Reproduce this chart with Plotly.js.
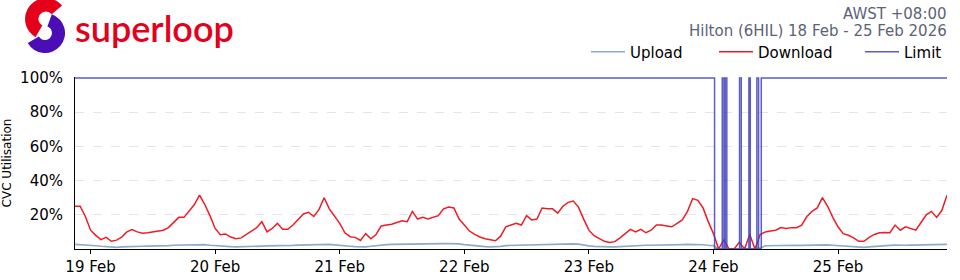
<!DOCTYPE html>
<html>
<head>
<meta charset="utf-8">
<script src="https://cdn.plot.ly/plotly-3.0.1.min.js"></script>
<style>html,body{margin:0;padding:0;background:#fff;}#chart{width:960px;height:280px;}</style>
</head>
<body>
<div id="chart"></div>
<script>
// ---- data (hourly samples starting 18 Feb 2026 21:00 AWST) ----
const seriesStart = '2026-02-18 21:00';
const seriesEnd = '2026-02-25 21:00';
const download = [
  25, 25, 19, 11, 8, 5.5, 6.8, 4.5, 5.2, 7,
  10, 11.3, 10, 9.2, 9.5, 10, 10.5, 11, 12.5, 15.5,
  18.5, 18.5, 22, 26, 31.5, 26, 19.5, 12, 8.3, 8.8,
  7, 6, 6.5, 8.5, 10.5, 12.5, 16, 10, 12, 15,
  11.5, 11.5, 14, 17, 20.5, 21.5, 19, 23, 30, 23.5,
  19.5, 15, 9.5, 7.2, 6.8, 5, 9, 6, 8.5, 13.5,
  14, 14.5, 15.5, 16.5, 16, 22, 17.5, 18.5, 17.5, 18.5,
  19.5, 23.5, 24.5, 24, 17.5, 14, 10.5, 8.5, 7, 6,
  5.2, 4.8, 7.5, 13, 14, 15, 14, 19.5, 17, 17.5,
  24, 23.5, 23.5, 21, 25, 27.3, 28, 24.5, 17.5, 11,
  7.8, 6, 4.5, 3.8, 4.3, 6.5, 9, 11.5, 10, 11.5,
  9.5, 11, 14, 14, 13.5, 13, 15, 17, 22, 29.5,
  28.5, 24, 16, 9, 0, 5.5, 0, 0, 4, 0,
  8.5, 0, 8.5, 10, 10.5, 11, 12.5, 12, 12.5, 12.5,
  14, 19, 22, 24, 30, 25, 18.5, 13, 9, 8,
  6.5, 4.5, 4.5, 6.8, 8.5, 9.5, 9.7, 9.5, 14, 11,
  13, 12, 11, 15.5, 20, 22, 18.5, 22.5, 31.5
];
const upload = [
  2.7, 2.6, 2.3, 2.0, 1.9, 1.6, 1.3, 1.0, 1.0, 1.2,
  1.4, 1.5, 1.6, 1.6, 1.7, 1.7, 1.8, 1.9, 2.0, 2.2,
  2.3, 2.5, 2.6, 2.8, 2.9, 2.6, 2.2, 1.9, 1.8, 1.6,
  1.4, 1.3, 1.3, 1.4, 1.5, 1.6, 1.7, 1.8, 1.8, 1.9,
  1.9, 2.0, 2.1, 2.3, 2.4, 2.5, 2.6, 2.7, 2.8, 2.7,
  2.4, 2.0, 1.8, 1.6, 1.4, 1.3, 1.3, 1.6, 2.0, 2.4,
  2.6, 2.7, 2.7, 2.8, 2.8, 2.9, 2.9, 2.9, 3.0, 3.0,
  3.0, 3.1, 3.2, 3.3, 3.0, 2.6, 2.2, 1.9, 1.6, 1.4,
  1.2, 1.2, 1.5, 2.0, 2.1, 2.2, 2.3, 2.4, 2.5, 2.5,
  2.6, 2.7, 2.8, 2.8, 2.9, 2.9, 3.0, 2.8, 2.2, 1.8,
  1.5, 1.3, 1.2, 1.2, 1.3, 1.5, 1.8, 1.9, 2.0, 2.1,
  2.2, 2.2, 2.2, 2.2, 2.3, 2.4, 2.5, 2.6, 2.7, 2.7,
  2.7, 2.5, 2.2, 2.0, 0, 0.2, 0, 0, 0.2, 0,
  0.3, 0, 0.5, 1.9, 2.0, 2.0, 2.1, 2.1, 2.2, 2.2,
  2.1, 2.2, 2.3, 2.4, 2.5, 2.4, 2.2, 2.0, 1.7, 1.4,
  1.2, 1.0, 1.0, 1.3, 1.6, 1.8, 2.0, 2.1, 2.3, 2.1,
  2.2, 2.3, 2.4, 2.4, 2.5, 2.5, 2.6, 2.7, 2.7
];
// Limit changes (step series)
const limitTimes = [
  '2026-02-18 21:00', '2026-02-24 00:13', '2026-02-24 01:42', '2026-02-24 02:01',
  '2026-02-24 02:17', '2026-02-24 02:35', '2026-02-24 05:02', '2026-02-24 05:22',
  '2026-02-24 06:50', '2026-02-24 07:06', '2026-02-24 08:22', '2026-02-24 08:42',
  '2026-02-24 09:13', '2026-02-25 21:00'
];
const limitVals = [100, 0, 100, 0, 100, 0, 100, 0, 100, 0, 100, 0, 100, 100];
const yTickVals = [20, 40, 60, 80, 100];
const yTickText = ['20%', '40%', '60%', '80%', '100%'];
const seriesNames = ['Upload', 'Download', 'Limit'];
const headerLines = ['AWST +08:00', 'Hilton (6HIL) 18 Feb - 25 Feb 2026'];
const brand = 'superloop';

// ---- hourly timestamps ----
function pad(n){return (n<10?'0':'')+n;}
const t0 = Date.UTC(2026, 1, 18, 21, 0, 0);
const times = download.map((_, i) => {
  const d = new Date(t0 + i * 3600000);
  return d.getUTCFullYear() + '-' + pad(d.getUTCMonth()+1) + '-' + pad(d.getUTCDate()) + ' ' +
         pad(d.getUTCHours()) + ':' + pad(d.getUTCMinutes()) + ':00';
});

// ---- layout geometry ----
const ML = 75, MR = 13, MT = 77, MB = 31, W = 960, H = 280;
const PW = W - ML - MR, PH = H - MT - MB;
const pX = x => (x - ML) / PW;
const pY = y => (H - MB - y) / PH;
const FONT = 'DejaVu Sans, Verdana, sans-serif';
const ITEMW = 34;

const traces = [
  {x: times, y: upload, name: seriesNames[0], legend: 'legend', type: 'scatter', mode: 'lines',
   line: {color: '#8eaacb', width: 1.7}, hoverinfo: 'skip'},
  {x: times, y: download, name: seriesNames[1], legend: 'legend2', type: 'scatter', mode: 'lines',
   line: {color: '#ee1d25', width: 1.5}, hoverinfo: 'skip'},
  {x: limitTimes, y: limitVals, name: seriesNames[2], legend: 'legend3', type: 'scatter', mode: 'lines',
   line: {color: 'rgba(64,64,190,0.85)', width: 1.5, shape: 'hv'}, hoverinfo: 'skip'}
];

function legendBase() {
  return {orientation: 'h', y: pY(52), yanchor: 'middle',
          font: {family: FONT, size: 15, color: '#000'}, bgcolor: 'rgba(0,0,0,0)',
          itemwidth: ITEMW, borderwidth: 0};
}
function legendLeft(textLeft) {
  return Object.assign(legendBase(), {x: pX(textLeft - ITEMW - 10), xanchor: 'left'});
}

const logoSvg = '<svg xmlns="http://www.w3.org/2000/svg" viewBox="20 -4 54 60" width="54" height="60">' +
  '<path fill="#e4001b" d="M62.1 5.5 A21 21 0 1 0 35.5 37.2 L42.25 25.5 A7.5 7.5 0 1 1 51.7 14.2 Z"/>' +
  '<path fill="#4b0db5" d="M27.7 43 A20 20 0 1 0 51.8 14.2 L47.4 26.4 A7 7 0 1 1 38.9 36.5 Z"/>' +
  '</svg>';
const logoUri = 'data:image/svg+xml;charset=utf-8,' + encodeURIComponent(logoSvg);

const layout = {
  width: W, height: H,
  margin: {l: ML, r: MR, t: MT, b: MB, pad: 0},
  paper_bgcolor: '#ffffff', plot_bgcolor: '#ffffff',
  font: {family: FONT, size: 15, color: '#000'},
  showlegend: true,
  legend: legendLeft(630),
  legend2: legendLeft(758),
  legend3: Object.assign(legendBase(), {x: 1, xanchor: 'right'}),
  xaxis: {type: 'date', range: [seriesStart, seriesEnd],
          tick0: '2026-02-19', dtick: 86400000, tickformat: '%-d %b',
          showgrid: false, zeroline: false, showline: true, linecolor: '#000', linewidth: 1,
          ticks: 'outside', ticklen: 4, tickcolor: '#000',
          tickfont: {family: FONT, size: 15, color: '#000'}},
  yaxis: {range: [0, PH / 1.71], tickvals: yTickVals, ticktext: yTickText,
          showgrid: true, gridcolor: '#e4e4ec', griddash: 'dash', gridwidth: 1,
          zeroline: false, showline: true, linecolor: '#000', linewidth: 1,
          ticks: '', ticklabelstandoff: 8, automargin: false,
          tickfont: {family: FONT, size: 15, color: '#000'},
          title: {text: 'CVC Utilisation', font: {family: FONT, size: 12, color: '#000'}, standoff: 5}},
  images: [{source: logoUri, xref: 'paper', yref: 'paper', x: pX(20), y: pY(-4),
            sizex: 54 / PW, sizey: 60 / PH, sizing: 'stretch', xanchor: 'left', yanchor: 'top', layer: 'above'}],
  annotations: [
    {text: brand, xref: 'paper', yref: 'paper', x: pX(73), y: pY(28), xanchor: 'left', yanchor: 'middle',
     showarrow: false, font: {family: 'Lato, Noto Sans, sans-serif', size: 36, weight: 600, color: '#e4001b'}},
    {text: headerLines[0], xref: 'paper', yref: 'paper', x: pX(949), y: pY(14), xanchor: 'right', yanchor: 'middle',
     showarrow: false, font: {family: FONT, size: 15, color: '#5c6378'}},
    {text: headerLines[1], xref: 'paper', yref: 'paper', x: pX(949), y: pY(31.5), xanchor: 'right', yanchor: 'middle',
     showarrow: false, font: {family: FONT, size: 15, color: '#5c6378'}}
  ]
};

Plotly.newPlot('chart', traces, layout, {staticPlot: true, displayModeBar: false});
</script>
</body>
</html>
